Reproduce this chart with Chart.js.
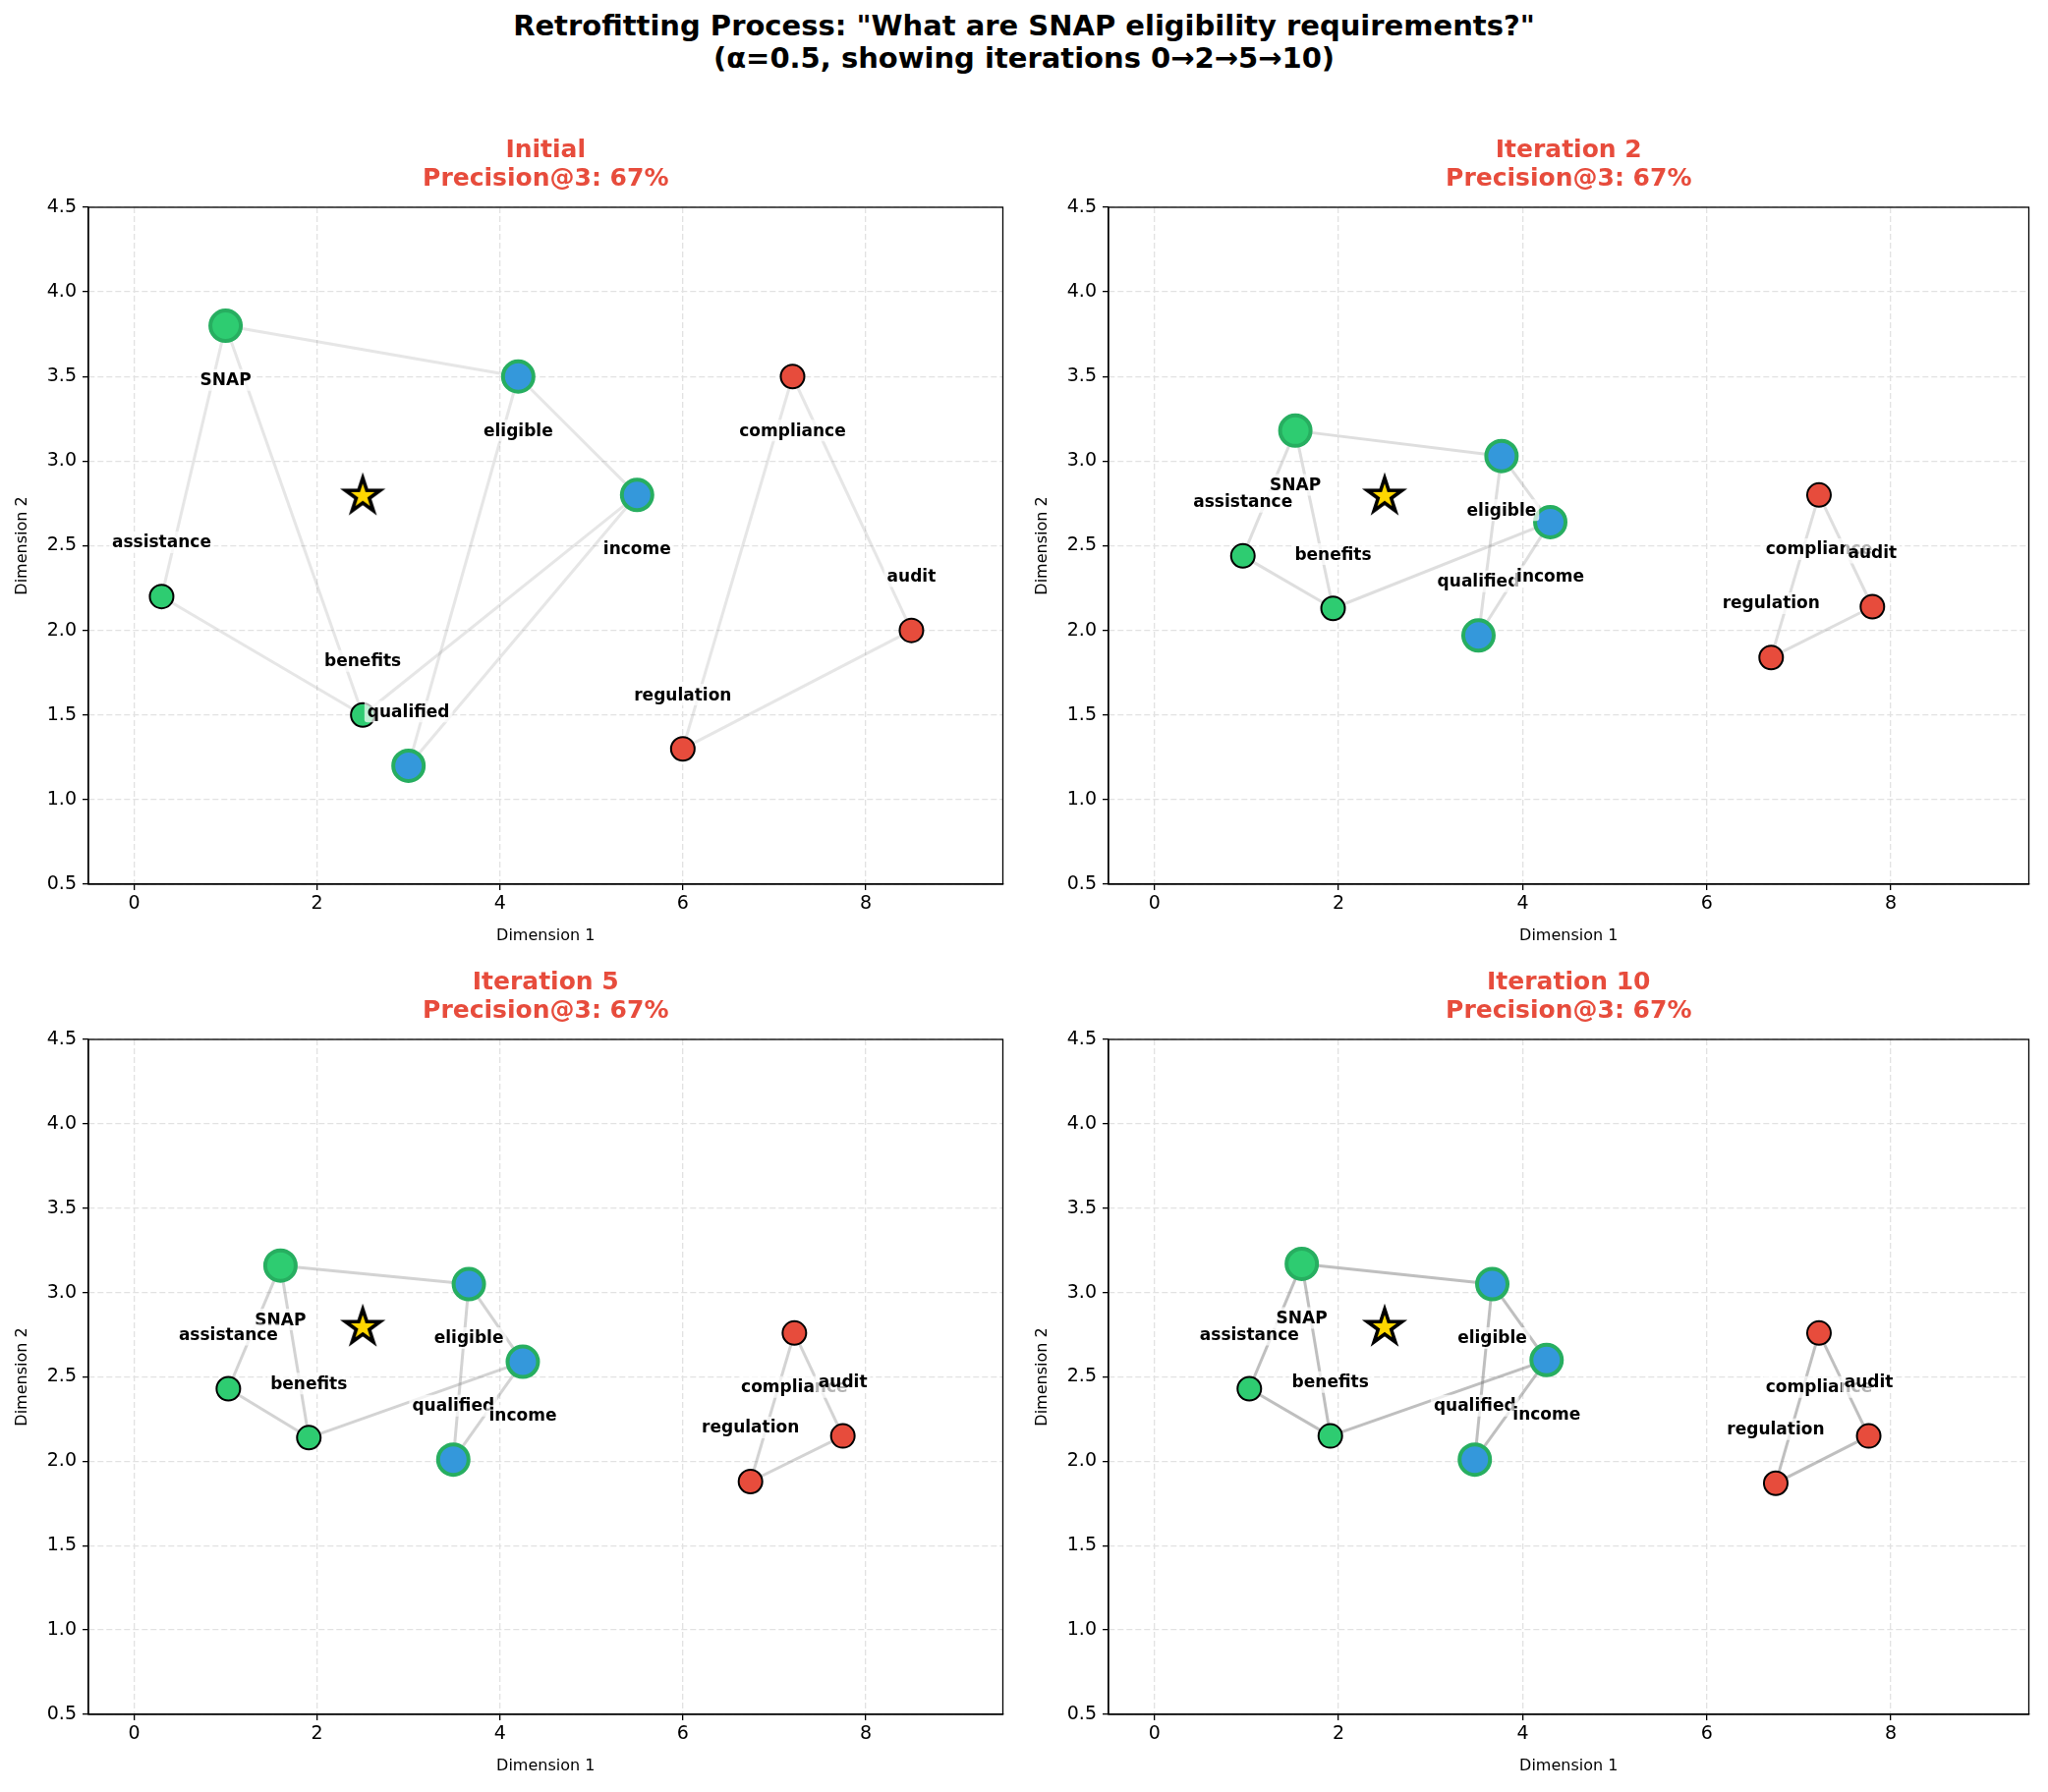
<!DOCTYPE html>
<html>
<head>
<meta charset="utf-8">
<script src="https://cdn.jsdelivr.net/npm/chart.js@4.4.1/dist/chart.umd.min.js"></script>
<style>
  html, body { margin: 0; padding: 0; background: #fff; overflow: hidden; }
  body { width: 2084px; height: 1824px; position: relative; font-family: "DejaVu Sans", sans-serif; }
  #suptitle { position: absolute; left: 0; top: 10px; width: 2084px; text-align: center;
              font-weight: bold; font-size: 29px; line-height: 33px; color: #000; }
  .panel { position: absolute; }
</style>
</head>
<body>
<div id="suptitle">Retrofitting Process: "What are SNAP eligibility requirements?"<br>(α=0.5, showing iterations 0→2→5→10)</div>
<div class="panel" style="left:0px;top:130px;width:1040px;height:840px"><canvas id="c0"></canvas></div>
<div class="panel" style="left:1038px;top:130px;width:1046px;height:840px"><canvas id="c1"></canvas></div>
<div class="panel" style="left:0px;top:977px;width:1040px;height:838px"><canvas id="c2"></canvas></div>
<div class="panel" style="left:1038px;top:977px;width:1046px;height:838px"><canvas id="c3"></canvas></div>
<script>
// documents and their groups
var terms    = ['SNAP', 'assistance', 'benefits', 'eligible', 'qualified', 'income', 'regulation', 'compliance', 'audit'];
var groups   = ['green', 'green', 'green', 'blue', 'blue', 'blue', 'red', 'red', 'red'];
var relevant = [true, false, false, true, true, true, false, false, false];

// positions per iteration
var x0  = [1.00, 0.30, 2.50, 4.20, 3.00, 5.50, 6.00, 7.20, 8.50];
var y0  = [3.80, 2.20, 1.50, 3.50, 1.20, 2.80, 1.30, 3.50, 2.00];
var x2  = [1.53, 0.96, 1.94, 3.77, 3.52, 4.30, 6.70, 7.22, 7.80];
var y2  = [3.18, 2.44, 2.13, 3.03, 1.97, 2.64, 1.84, 2.80, 2.14];
var x5  = [1.60, 1.03, 1.91, 3.66, 3.49, 4.25, 6.74, 7.22, 7.75];
var y5  = [3.16, 2.43, 2.14, 3.05, 2.01, 2.59, 1.88, 2.76, 2.15];
var x10 = [1.60, 1.03, 1.91, 3.67, 3.48, 4.26, 6.75, 7.22, 7.76];
var y10 = [3.17, 2.43, 2.15, 3.05, 2.01, 2.60, 1.87, 2.76, 2.15];

// query point
var queryX = [2.5];
var queryY = [2.8];

// graph edges (by term)
var edges = [
    ['SNAP', 'eligible'], ['SNAP', 'assistance'], ['SNAP', 'benefits'], ['assistance', 'benefits'],
    ['benefits', 'income'], ['eligible', 'income'], ['eligible', 'qualified'], ['income', 'qualified'],
    ['compliance', 'regulation'], ['compliance', 'audit'], ['audit', 'regulation']
];

var panelTitles = ['Initial', 'Iteration 2', 'Iteration 5', 'Iteration 10'];
var precision   = ['67%', '67%', '67%', '67%'];
var edgeAlpha   = [0.2, 0.26, 0.35, 0.5];

var xTicks = [0, 2, 4, 6, 8];
var yTicks = [0.5, 1.0, 1.5, 2.0, 2.5, 3.0, 3.5, 4.0, 4.5];
var yTickLabels = ['0.5', '1.0', '1.5', '2.0', '2.5', '3.0', '3.5', '4.0', '4.5'];

var panels = [[x0, y0], [x2, y2], [x5, y5], [x10, y10]];

var fillColors = { green: '#2ecc71', blue: '#3498db', red: '#e74c3c' };
var FONT = '"DejaVu Sans", sans-serif';

// filled star marker for the query
function makeStar() {
    var c = document.createElement('canvas');
    c.width = 48; c.height = 48;
    var g = c.getContext('2d');
    var R = 18.5, r = R * 0.382;
    g.beginPath();
    for (var i = 0; i < 10; i++) {
        var rad = (i % 2 === 0) ? R : r;
        var a = -Math.PI / 2 + i * Math.PI / 5;
        var px = 24 + rad * Math.cos(a), py = 25 + rad * Math.sin(a);
        if (i === 0) g.moveTo(px, py); else g.lineTo(px, py);
    }
    g.closePath();
    g.fillStyle = '#ffd700';
    g.fill();
    g.lineWidth = 3.6;
    g.lineJoin = 'miter';
    g.strokeStyle = '#000';
    g.stroke();
    return c;
}
var starImg = makeStar();

// full box around the plot area
var framePlugin = {
    id: 'frame',
    afterDraw: function (chart) {
        var a = chart.chartArea, ctx = chart.ctx;
        ctx.save();
        ctx.setLineDash([]);
        ctx.strokeStyle = '#000';
        ctx.lineWidth = 1.3;
        ctx.strokeRect(a.left, a.top, a.right - a.left, a.bottom - a.top);
        ctx.restore();
    }
};

// word labels with light white boxes
var labelPlugin = {
    id: 'termLabels',
    afterDatasetsDraw: function (chart) {
        var pos = chart.options.plugins.termLabels;
        var xs = chart.scales.x, ys = chart.scales.y, ctx = chart.ctx;
        ctx.save();
        ctx.font = 'bold 17px ' + FONT;
        ctx.textAlign = 'center';
        ctx.textBaseline = 'middle';
        for (var i = 0; i < terms.length; i++) {
            var xv = pos.xs[i], yv = pos.ys[i];
            var ly = yv > 2.5 ? yv - 0.32 : yv + 0.32;
            var px = xs.getPixelForValue(xv), py = ys.getPixelForValue(ly);
            var w = ctx.measureText(terms[i]).width;
            ctx.fillStyle = 'rgba(255,255,255,0.7)';
            ctx.beginPath();
            ctx.roundRect(px - w / 2 - 3, py - 11, w + 6, 22, 3);
            ctx.fill();
            ctx.fillStyle = '#000';
            ctx.fillText(terms[i], px, py + 1);
        }
        ctx.restore();
    }
};

function axisOptions(min, max, tickVals, fit, title, titlePad, labelFn, tickPad) {
    return {
        type: 'linear',
        min: min,
        max: max,
        afterBuildTicks: function (s) { s.ticks = tickVals.map(function (v) { return { value: v }; }); },
        afterFit: fit,
        ticks: { color: '#000', padding: tickPad, font: { family: FONT, size: 19 }, maxRotation: 0,
                 callback: labelFn },
        grid: { color: '#e2e2e2', lineWidth: 1.3, tickColor: '#000',
                tickLength: 6, tickWidth: 1.3, tickBorderDash: [] },
        border: { display: true, color: '#000', width: 1.3, dash: [6, 3] },
        title: { display: true, text: title, color: '#000',
                 font: { family: FONT, size: 16 }, padding: titlePad }
    };
}

function buildChart(k) {
    var xs = panels[k][0], ys = panels[k][1];
    var datasets = [];

    edges.forEach(function (e) {
        var a = terms.indexOf(e[0]), b = terms.indexOf(e[1]);
        datasets.push({
            data: [{ x: xs[a], y: ys[a] }, { x: xs[b], y: ys[b] }],
            showLine: true,
            borderColor: 'rgba(128,128,128,' + edgeAlpha[k] + ')',
            borderWidth: 3,
            pointRadius: 0,
            order: 10
        });
    });

    datasets.push({
        data: terms.map(function (t, i) { return { x: xs[i], y: ys[i] }; }),
        backgroundColor: groups.map(function (g) { return fillColors[g]; }),
        borderColor: relevant.map(function (r) { return r ? '#27ae60' : '#000'; }),
        borderWidth: relevant.map(function (r) { return r ? 4 : 2; }),
        pointRadius: relevant.map(function (r) { return r ? 15.5 : 12; }),
        order: 1
    });

    datasets.push({
        data: queryX.map(function (v, i) { return { x: v, y: queryY[i] }; }),
        pointStyle: starImg,
        order: 0
    });

    return new Chart(document.getElementById('c' + k).getContext('2d'), {
        type: 'scatter',
        data: { datasets: datasets },
        options: {
            responsive: true,
            maintainAspectRatio: false,
            animation: false,
            layout: { padding: { top: 8.5, right: (k % 2 === 0) ? 10 : 15, bottom: 0, left: 0 } },
            plugins: {
                legend: { display: false },
                tooltip: { enabled: false },
                title: {
                    display: true,
                    text: [panelTitles[k], 'Precision@3: ' + precision[k]],
                    color: '#e74c3c',
                    fullSize: false,
                    font: { family: FONT, size: 25, weight: 'bold', lineHeight: 1.16 },
                    padding: { top: 0, bottom: 14.5 }
                },
                termLabels: { xs: xs, ys: ys }
            },
            scales: {
                x: axisOptions(-0.5, 9.5, xTicks, function (s) { s.height = 70; }, 'Dimension 1',
                               { top: 0, bottom: 8 }, function (v) { return String(v); }, 3),
                y: axisOptions(0.5, 4.5, yTicks, function (s) { s.width = 90; }, 'Dimension 2',
                               { top: 13, bottom: 0 }, function (v, i) { return yTickLabels[i]; }, 6)
            }
        },
        plugins: [framePlugin, labelPlugin]
    });
}

document.addEventListener('DOMContentLoaded', function () {
    for (var k = 0; k < 4; k++) buildChart(k);
});
</script>
</body>
</html>
